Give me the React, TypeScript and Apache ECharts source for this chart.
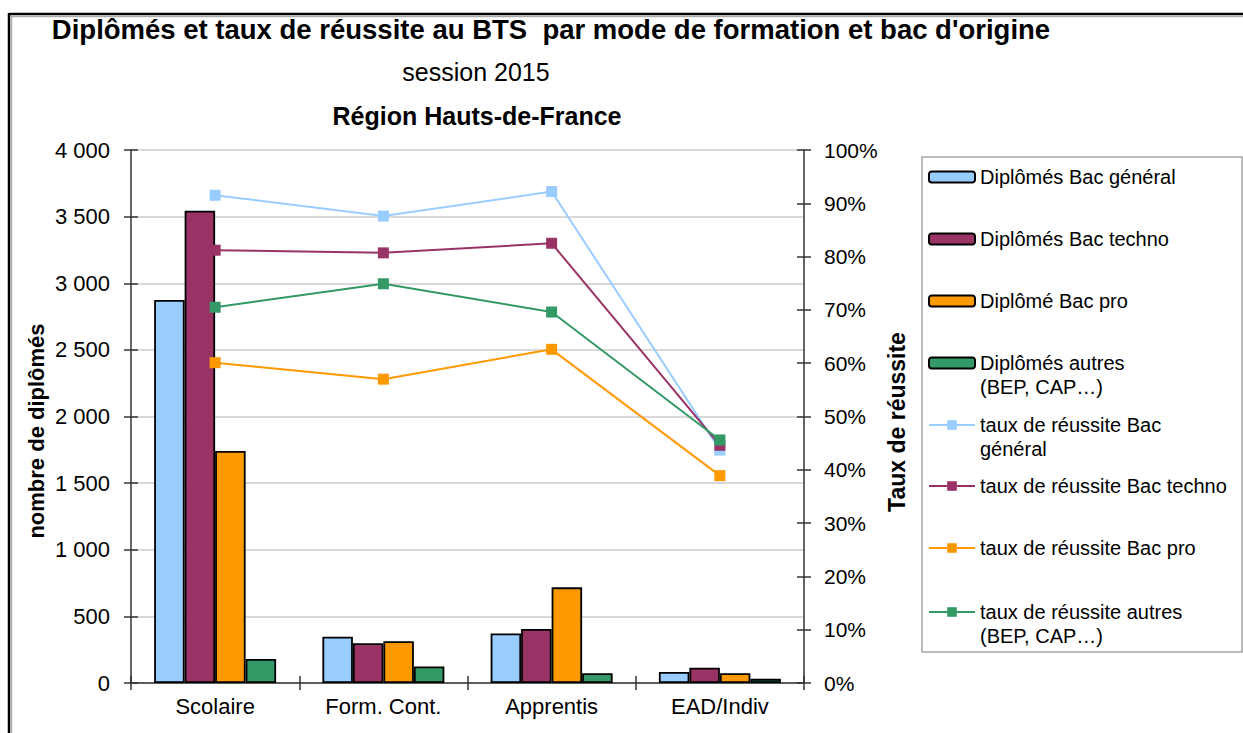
import React, { useEffect, useRef } from 'react';
import * as echarts from 'echarts';

const categories = ['Scolaire', 'Form. Cont.', 'Apprentis', 'EAD/Indiv'];

const seriesNames = [
  'Diplômés Bac général',
  'Diplômés Bac techno',
  'Diplômé Bac pro',
  'Diplômés autres (BEP, CAP…)',
  'taux de réussite Bac général',
  'taux de réussite Bac techno',
  'taux de réussite Bac pro',
  'taux de réussite autres (BEP, CAP…)',
];

const legendTexts = [
  'Diplômés Bac général',
  'Diplômés Bac techno',
  'Diplômé Bac pro',
  'Diplômés autres\n(BEP, CAP…)',
  'taux de réussite Bac\ngénéral',
  'taux de réussite Bac techno',
  'taux de réussite Bac pro',
  'taux de réussite autres\n(BEP, CAP…)',
];

// Diplômés (nombre)
const diplGeneral = [2875, 348, 372, 82];
const diplTechno = [3545, 298, 405, 115];
const diplPro = [1742, 313, 718, 73];
const diplAutres = [181, 124, 73, 31];

// Taux de réussite (%)
const tauxGeneral = [91.5, 87.6, 92.2, 43.7];
const tauxTechno = [81.2, 80.7, 82.5, 44.6];
const tauxPro = [60.1, 57.0, 62.6, 38.9];
const tauxAutres = [70.5, 74.9, 69.6, 45.6];

const leftTickLabels = ['0', '500', '1 000', '1 500', '2 000', '2 500', '3 000', '3 500', '4 000'];
const rightTickLabels = ['0%', '10%', '20%', '30%', '40%', '50%', '60%', '70%', '80%', '90%', '100%'];

const colors = ['#99CCFF', '#993366', '#FF9900', '#339966'];

const FONT = '"Liberation Sans", Arial, sans-serif';

export default function App() {
  const ref = useRef<HTMLDivElement>(null);

  useEffect(() => {
    const chart = echarts.init(ref.current!, null, { renderer: 'svg' });

    const barData = [diplGeneral, diplTechno, diplPro, diplAutres];
    const lineData = [tauxGeneral, tauxTechno, tauxPro, tauxAutres];

    const barSeries = barData.map((d, i) => ({
      name: seriesNames[i],
      type: 'bar',
      xAxisIndex: 0,
      yAxisIndex: 0,
      data: d,
      barGap: '0%',
      barCategoryGap: '27.5%',
      itemStyle: { color: colors[i], borderColor: '#000', borderWidth: 1.8 },
    }));

    const lineSeries = lineData.map((d, i) => ({
      name: seriesNames[4 + i],
      type: 'line',
      xAxisIndex: 0,
      yAxisIndex: 1,
      data: d,
      symbol: 'rect',
      symbolSize: 11,
      z: 3,
      lineStyle: { color: colors[i], width: 2 },
      itemStyle: { color: colors[i] },
    }));

    // legend rows: centre of first line of each item
    const rowCenters = [177, 239, 301, 363, 425, 486, 548, 612];
    const legends = seriesNames.map((name, i) => {
      const multi = legendTexts[i].includes('\n');
      const text = multi ? ' \n' + legendTexts[i] : legendTexts[i];
      const isBar = i < 4;
      return {
        show: true,
        data: [name],
        left: 928,
        top: multi ? rowCenters[i] - 36 : rowCenters[i] - 12,
        padding: 0,
        selectedMode: false,
        itemWidth: 46,
        itemHeight: isBar ? 11 : 12,
        formatter: () => text,
        textStyle: { fontSize: 20, lineHeight: 24, fontFamily: FONT, color: '#000' },
      };
    });

    const axisLineStyle = { color: '#333', width: 1.5 };

    const option = {
      animation: false,
      backgroundColor: '#fff',
      textStyle: { fontFamily: FONT },
      grid: { left: 131, right: 439, top: 150, bottom: 50, containLabel: false },
      legend: legends,
      xAxis: [
        {
          type: 'category',
          data: categories,
          position: 'bottom',
          axisLine: { lineStyle: axisLineStyle },
          axisTick: { show: true, length: 7, lineStyle: axisLineStyle },
          axisLabel: { fontSize: 22, color: '#000', margin: 12, fontFamily: FONT },
        },
        {
          type: 'category',
          data: categories,
          position: 'bottom',
          axisLine: { show: false },
          axisTick: { show: true, inside: true, length: 7, lineStyle: axisLineStyle },
          axisLabel: { show: false },
        },
      ],
      yAxis: [
        {
          type: 'value',
          position: 'left',
          min: 0,
          max: 4000,
          interval: 500,
          axisLine: { show: true, lineStyle: axisLineStyle },
          axisTick: { show: true, length: 7, lineStyle: axisLineStyle },
          axisLabel: {
            fontSize: 22,
            color: '#000',
            margin: 21,
            fontFamily: FONT,
            formatter: (v: number) => leftTickLabels[Math.round(v / 500)],
          },
          splitLine: { show: true, lineStyle: { color: '#d9d9d9', width: 2 } },
        },
        {
          type: 'value',
          position: 'right',
          min: 0,
          max: 100,
          interval: 10,
          axisLine: { show: true, lineStyle: axisLineStyle },
          axisTick: { show: true, length: 7, lineStyle: axisLineStyle },
          axisLabel: {
            fontSize: 21,
            color: '#000',
            margin: 20,
            fontFamily: FONT,
            formatter: (v: number) => rightTickLabels[Math.round(v / 10)],
          },
          splitLine: { show: false },
        },
        {
          type: 'value',
          position: 'left',
          min: 0,
          max: 4000,
          interval: 500,
          axisLine: { show: false },
          axisTick: { show: true, inside: true, length: 7, lineStyle: axisLineStyle },
          axisLabel: { show: false },
          splitLine: { show: false },
        },
        {
          type: 'value',
          position: 'right',
          min: 0,
          max: 100,
          interval: 10,
          axisLine: { show: false },
          axisTick: { show: true, inside: true, length: 7, lineStyle: axisLineStyle },
          axisLabel: { show: false },
          splitLine: { show: false },
        },
      ],
      series: [...barSeries, ...lineSeries],
      graphic: [
        // outer frame
        { type: 'line', shape: { x1: 9, y1: 14, x2: 1243, y2: 14 }, style: { stroke: '#000', lineWidth: 2.5 } },
        { type: 'line', shape: { x1: 9, y1: 13, x2: 9, y2: 733 }, style: { stroke: '#000', lineWidth: 2.5 } },
        { type: 'line', shape: { x1: 11, y1: 16.5, x2: 1243, y2: 16.5 }, style: { stroke: '#aaa', lineWidth: 1.5 } },
        { type: 'line', shape: { x1: 11.5, y1: 16, x2: 11.5, y2: 733 }, style: { stroke: '#aaa', lineWidth: 1.5 } },
        // legend box
        {
          type: 'rect',
          z: -1,
          shape: { x: 922, y: 157, width: 320, height: 495 },
          style: { fill: '#fff', stroke: '#a6a6a6', lineWidth: 1.5 },
        },
        // titles
        {
          type: 'text',
          x: 551,
          y: 29,
          style: {
            text: "Diplômés et taux de réussite au BTS  par mode de formation et bac d'origine",
            fontSize: 27.5,
            fontWeight: 'bold',
            fontFamily: FONT,
            fill: '#000',
            align: 'center',
            verticalAlign: 'middle',
          },
        },
        {
          type: 'text',
          x: 476,
          y: 72,
          style: {
            text: 'session 2015',
            fontSize: 25,
            fontFamily: FONT,
            fill: '#000',
            align: 'center',
            verticalAlign: 'middle',
          },
        },
        {
          type: 'text',
          x: 477,
          y: 116,
          style: {
            text: 'Région Hauts-de-France',
            fontSize: 25,
            fontWeight: 'bold',
            fontFamily: FONT,
            fill: '#000',
            align: 'center',
            verticalAlign: 'middle',
          },
        },
        {
          type: 'text',
          x: 36,
          y: 431,
          rotation: Math.PI / 2,
          style: {
            text: 'nombre de diplômés',
            fontSize: 22,
            fontWeight: 'bold',
            fontFamily: FONT,
            fill: '#000',
            align: 'center',
            verticalAlign: 'middle',
          },
        },
        {
          type: 'text',
          x: 897,
          y: 422,
          rotation: Math.PI / 2,
          style: {
            text: 'Taux de réussite',
            fontSize: 23,
            fontWeight: 'bold',
            fontFamily: FONT,
            fill: '#000',
            align: 'center',
            verticalAlign: 'middle',
          },
        },
      ],
    };

    chart.setOption(option as any);
    return () => chart.dispose();
  }, []);

  return (
    <div
      ref={ref}
      style={{ position: 'fixed', left: 0, top: 0, width: 1243, height: 733, background: '#fff' }}
    />
  );
}
